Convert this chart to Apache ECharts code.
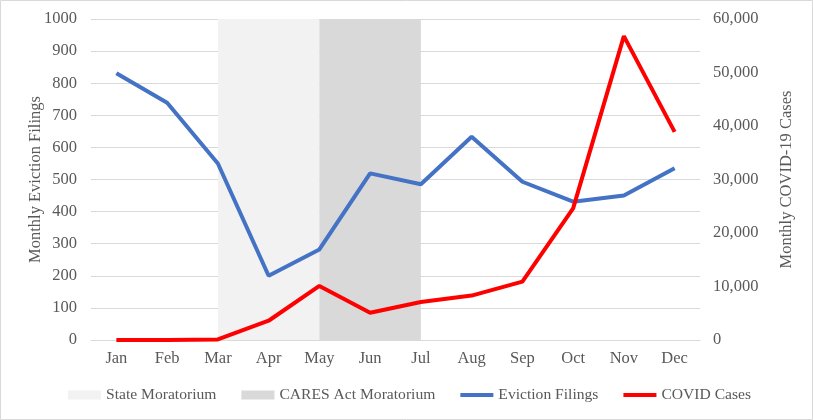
<!DOCTYPE html>
<html><head><meta charset="utf-8">
<script src="https://cdn.jsdelivr.net/npm/echarts@6/dist/echarts.min.js"></script>
<style>html,body{margin:0;padding:0;background:#fff}#c{width:813px;height:420px}</style>
</head><body><div id="c"></div>
<script>
var months = ['Jan','Feb','Mar','Apr','May','Jun','Jul','Aug','Sep','Oct','Nov','Dec'];
var evictions = [831, 739, 550, 200, 282, 519, 485, 633, 493, 431, 450, 535];
var covid = [0, 0, 100, 3600, 10100, 5100, 7100, 8300, 10900, 24600, 56800, 38900];
var stateMoratorium = ['Mar', 'May'];
var caresMoratorium = ['May', 'Jul'];
var leftTicks = {min: 0, max: 1000, interval: 100};
var rightTicks = {min: 0, max: 60000, interval: 10000};

var txt = '#595959';
var font = '"Liberation Serif", "Times New Roman", serif';
var fs = 16.5;
var lineIcon = 'path://M0,0h33v4h-33z';
var chart = echarts.init(document.getElementById('c'));
chart.setOption({
  animation: false,
  textStyle: {fontFamily: font},
  graphic: [{type: 'rect', shape: {x: 0.5, y: 0.5, width: 812, height: 419}, style: {fill: 'none', stroke: '#d9d9d9', lineWidth: 1}, z: -1}],
  grid: {left: 91, right: 113, top: 19, bottom: 80},
  legend: {
    bottom: 12, left: 63, itemWidth: 33, itemHeight: 9, itemGap: 25,
    symbolKeepAspect: true,
    textStyle: {color: txt, fontSize: 15.6, fontFamily: font},
    data: [
      {name: 'State Moratorium', icon: 'rect', itemStyle: {color: '#f2f2f2'}},
      {name: 'CARES Act Moratorium', icon: 'rect', itemStyle: {color: '#d9d9d9'}},
      {name: 'Eviction Filings', icon: lineIcon, itemStyle: {color: '#4472c4'}},
      {name: 'COVID Cases', icon: lineIcon, itemStyle: {color: '#ff0000'}}
    ]
  },
  xAxis: {
    type: 'category', data: months, boundaryGap: true,
    axisLine: {lineStyle: {color: '#d9d9d9'}}, axisTick: {show: false},
    axisLabel: {color: txt, fontSize: fs, fontFamily: font, margin: 10}
  },
  yAxis: [{
    type: 'value', min: leftTicks.min, max: leftTicks.max, interval: leftTicks.interval,
    name: 'Monthly Eviction Filings', nameLocation: 'middle', nameGap: 47, nameRotate: 90,
    nameMoveOverlap: false,
    nameTextStyle: {color: txt, fontSize: fs, fontFamily: font},
    axisLabel: {color: txt, fontSize: fs, fontFamily: font, margin: 14,
      formatter: function(v){ return String(v); }},
    splitLine: {lineStyle: {color: '#d9d9d9'}}, axisLine: {show: false}
  }, {
    type: 'value', min: rightTicks.min, max: rightTicks.max, interval: rightTicks.interval,
    name: 'Monthly COVID-19 Cases', nameLocation: 'middle', nameGap: 78, nameRotate: 90,
    nameMoveOverlap: false,
    nameTextStyle: {color: txt, fontSize: fs, fontFamily: font},
    axisLabel: {color: txt, fontSize: fs, fontFamily: font, margin: 13,
      formatter: function(v){ return v.toLocaleString('en-US'); }},
    splitLine: {show: false}, axisLine: {show: false}
  }],
  series: [
    {name: 'State Moratorium', type: 'line', data: [], z: 0,
     itemStyle: {color: '#f2f2f2'},
     markArea: {silent: true, itemStyle: {color: '#f2f2f2'}, data: [[{xAxis: stateMoratorium[0]}, {xAxis: stateMoratorium[1]}]]}},
    {name: 'CARES Act Moratorium', type: 'line', data: [], z: 0,
     itemStyle: {color: '#d9d9d9'},
     markArea: {silent: true, itemStyle: {color: '#d9d9d9'}, data: [[{xAxis: caresMoratorium[0]}, {xAxis: caresMoratorium[1]}]]}},
    {name: 'Eviction Filings', type: 'line', data: evictions, yAxisIndex: 0, symbol: 'none',
     lineStyle: {color: '#4472c4', width: 4}, itemStyle: {color: '#4472c4'}, z: 3},
    {name: 'COVID Cases', type: 'line', data: covid, yAxisIndex: 1, symbol: 'none',
     lineStyle: {color: '#ff0000', width: 4}, itemStyle: {color: '#ff0000'}, z: 4}
  ]
});
</script></body></html>
